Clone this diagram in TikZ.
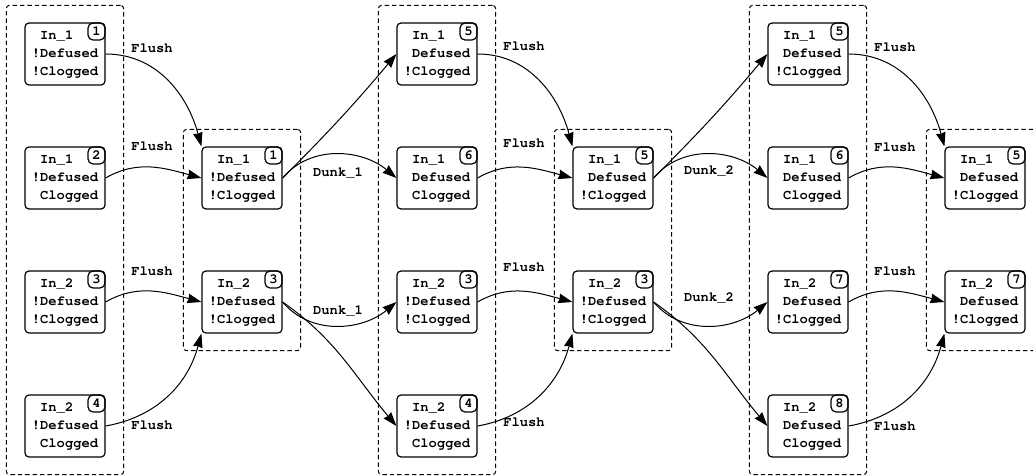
\documentclass[tikz,border=0pt]{standalone}
\usepackage[T1]{fontenc}
\usepackage{courier}
\usetikzlibrary{arrows.meta,fit}
\newcommand{\esp}{\phantom{!}}

\begin{document}
\begin{tikzpicture}[x=0.5pt,y=-0.5pt,
	every node/.style={font=\fontsize{6.9}{8.9}\selectfont\ttfamily\bfseries},
	estado/.style={draw,line width=0.6pt,rounded corners=2pt,minimum width=40pt,minimum height=31pt,align=left,inner sep=0pt},
	num/.style={draw,line width=0.6pt,rounded corners=2.5pt,minimum size=8.5pt,inner sep=0pt,anchor=north east},
	grupo/.style={draw,dash pattern=on 2.2pt off 1.5pt,line width=0.5pt,rounded corners=1.5pt,inner xsep=9pt,inner ysep=8.5pt},
	flecha/.style={line width=0.5pt,-{Stealth[length=7pt,width=4.8pt,inset=0.5pt]}}]
			\useasboundingbox (0,0) rectangle (1033,476);
			%columna 1
			\node[estado] (a1) at (65,54) {\esp In\_1\\!Defused\\!Clogged};
			\node[estado] (a2) at (65,178) {\esp In\_1\\!Defused\\\esp Clogged};
			\node[estado] (a3) at (65,302) {\esp In\_2\\!Defused\\!Clogged};
			\node[estado] (a4) at (65,426) {\esp In\_2\\!Defused\\\esp Clogged};
			\node[num] (a1n) at (a1.north east) {1};
			\node[num] (a2n) at (a2.north east) {2};
			\node[num] (a3n) at (a3.north east) {3};
			\node[num] (a4n) at (a4.north east) {4};
			%columna 2
			\node[estado] (b1) at (242,178) {\esp In\_1\\!Defused\\!Clogged};
			\node[estado] (b2) at (242,302) {\esp In\_2\\!Defused\\!Clogged};
			\node[num] (b1n) at (b1.north east) {1};
			\node[num] (b2n) at (b2.north east) {3};
			%columna 3
			\node[estado] (c1) at (437,54) {\esp In\_1\\\esp Defused\\!Clogged};
			\node[estado] (c2) at (437,178) {\esp In\_1\\\esp Defused\\\esp Clogged};
			\node[estado] (c3) at (437,302) {\esp In\_2\\!Defused\\!Clogged};
			\node[estado] (c4) at (437,426) {\esp In\_2\\!Defused\\\esp Clogged};
			\node[num] (c1n) at (c1.north east) {5};
			\node[num] (c2n) at (c2.north east) {6};
			\node[num] (c3n) at (c3.north east) {3};
			\node[num] (c4n) at (c4.north east) {4};
			%columna 4
			\node[estado] (d1) at (613,178) {\esp In\_1\\\esp Defused\\!Clogged};
			\node[estado] (d2) at (613,302) {\esp In\_2\\!Defused\\!Clogged};
			\node[num] (d1n) at (d1.north east) {5};
			\node[num] (d2n) at (d2.north east) {3};
			%columna 5
			\node[estado] (e1) at (808,54) {\esp In\_1\\\esp Defused\\!Clogged};
			\node[estado] (e2) at (808,178) {\esp In\_1\\\esp Defused\\\esp Clogged};
			\node[estado] (e3) at (808,302) {\esp In\_2\\\esp Defused\\!Clogged};
			\node[estado] (e4) at (808,426) {\esp In\_2\\\esp Defused\\\esp Clogged};
			\node[num] (e1n) at (e1.north east) {5};
			\node[num] (e2n) at (e2.north east) {6};
			\node[num] (e3n) at (e3.north east) {7};
			\node[num] (e4n) at (e4.north east) {8};
			%columna 6
			\node[estado] (f1) at (985,178) {\esp In\_1\\\esp Defused\\!Clogged};
			\node[estado] (f2) at (985,302) {\esp In\_2\\\esp Defused\\!Clogged};
			\node[num] (f1n) at (f1.north east) {5};
			\node[num] (f2n) at (f2.north east) {7};
			%grupos
			\node[grupo,fit=(a1)(a4)] (ga) {};
			\node[grupo,fit=(b1)(b2)] (gb) {};
			\node[grupo,fit=(c1)(c4)] (gc) {};
			\node[grupo,fit=(d1)(d2)] (gd) {};
			\node[grupo,fit=(e1)(e4)] (ge) {};
			\node[grupo,fit=(f1)(f2)] (gf) {};
			%transiciones Flush
			\draw[flecha] (a1.east) to[out=0,in=105] (b1.north west);
			\draw[flecha] (a2.east) to[out=30,in=165] (b1.west);
			\draw[flecha] (a3.east) to[out=30,in=165] (b2.west);
			\draw[flecha] (a4.east) to[out=10,in=-105] (b2.south west);
			\draw[flecha] (c1.east) to[out=0,in=105] (d1.north west);
			\draw[flecha] (c2.east) to[out=30,in=165] (d1.west);
			\draw[flecha] (c3.east) to[out=30,in=165] (d2.west);
			\draw[flecha] (c4.east) to[out=10,in=-105] (d2.south west);
			\draw[flecha] (e1.east) to[out=0,in=105] (f1.north west);
			\draw[flecha] (e2.east) to[out=30,in=165] (f1.west);
			\draw[flecha] (e3.east) to[out=30,in=165] (f2.west);
			\draw[flecha] (e4.east) to[out=10,in=-105] (f2.south west);
			%transiciones Dunk
			\draw[flecha] (b1.east) to[out=45,in=-130] (c1.west);
			\draw[flecha] (b1.east) to[out=50,in=140] (c2.west);
			\draw[flecha] (b2.east) to[out=-50,in=-140] (c3.west);
			\draw[flecha] (b2.east) to[out=-35,in=130] (c4.west);
			\draw[flecha] (d1.east) to[out=45,in=-130] (e1.west);
			\draw[flecha] (d1.east) to[out=50,in=140] (e2.west);
			\draw[flecha] (d2.east) to[out=-50,in=-140] (e3.west);
			\draw[flecha] (d2.east) to[out=-35,in=130] (e4.west);
			%etiquetas
			\node (l1) at (152,48) {Flush};
			\node (l2) at (152,146) {Flush};
			\node (l3) at (152,271) {Flush};
			\node (l4) at (152,425) {Flush};
			\node (l5) at (524,46) {Flush};
			\node (l6) at (524,143) {Flush};
			\node (l7) at (524,267) {Flush};
			\node (l8) at (524,422) {Flush};
			\node (l9) at (895,47) {Flush};
			\node (l10) at (895,147) {Flush};
			\node (l11) at (895,271) {Flush};
			\node (l12) at (895,426) {Flush};
			\node (m1) at (338,173) {Dunk\_1};
			\node (m2) at (338,311) {Dunk\_1};
			\node (m3) at (709,171) {Dunk\_2};
			\node (m4) at (709,298) {Dunk\_2};
		\end{tikzpicture}
\end{document}
